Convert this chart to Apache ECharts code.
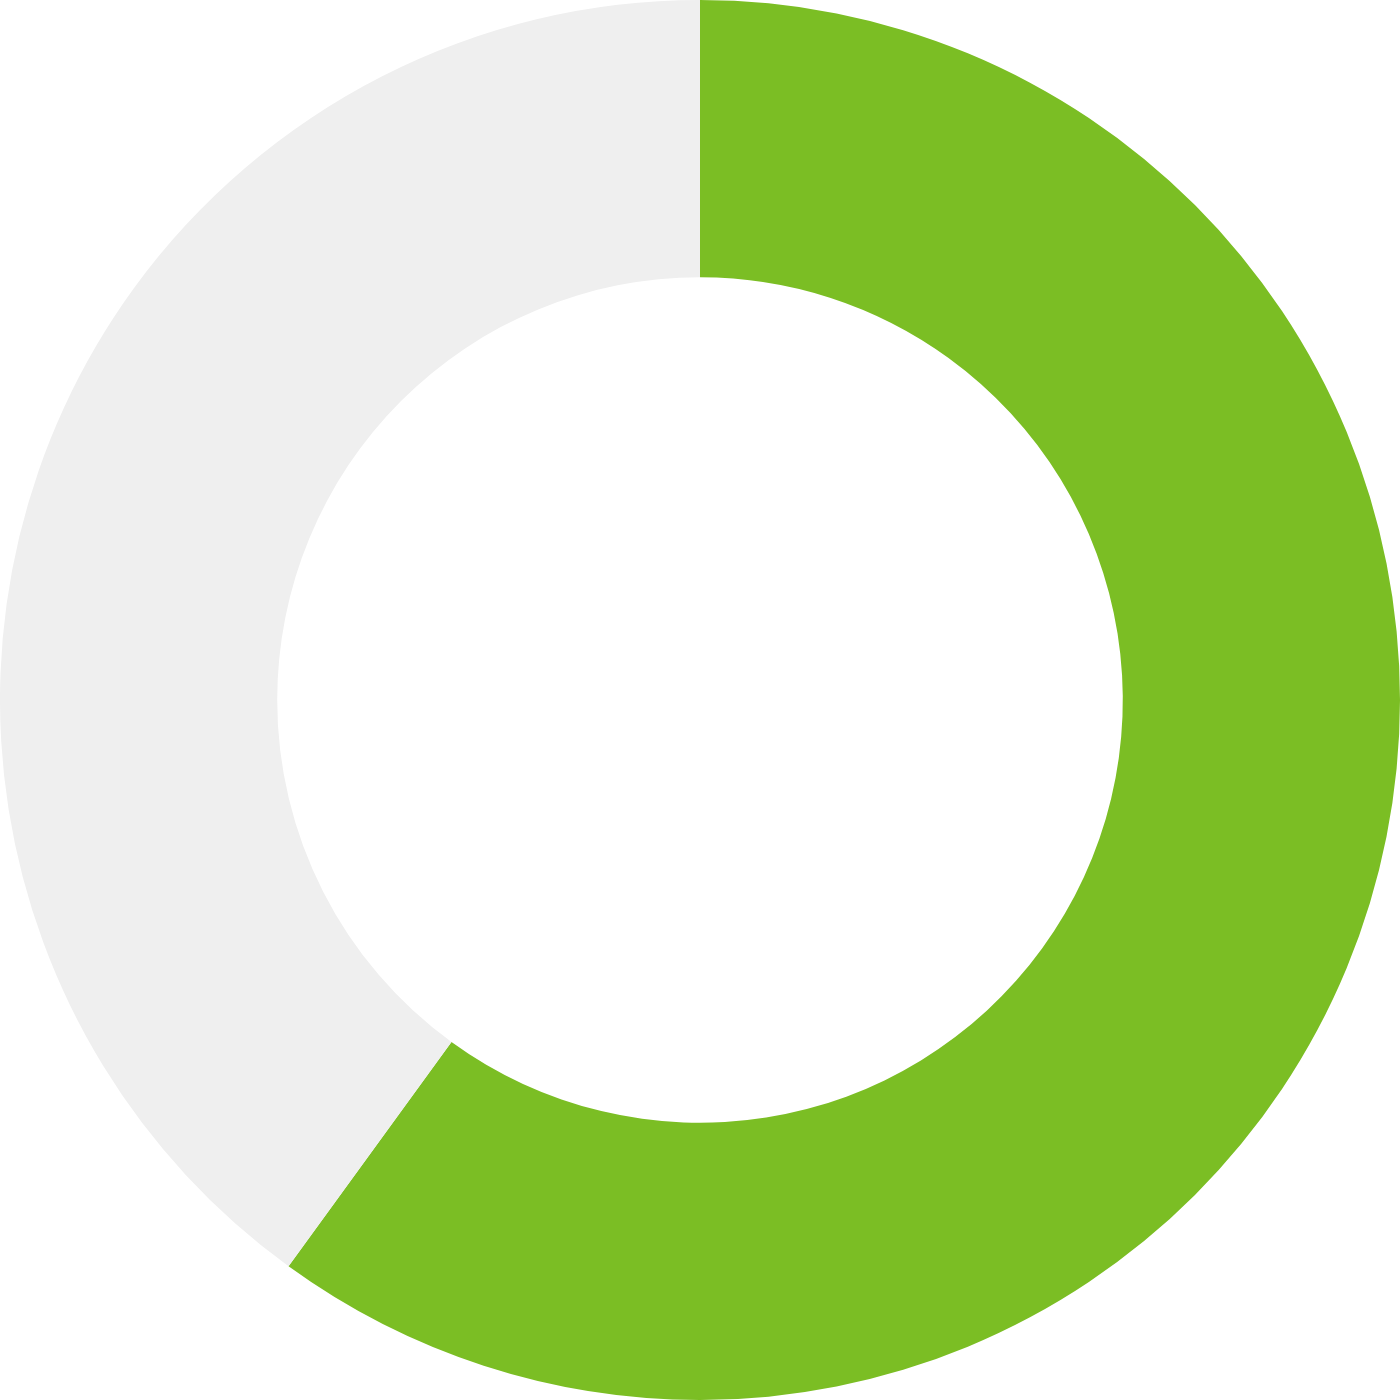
<!DOCTYPE html>
<html>
<head>
<meta charset="utf-8">
<script src="https://cdn.jsdelivr.net/npm/echarts@6/dist/echarts.min.js"></script>
<style>
    html, body { margin: 0; padding: 0; background: #fff; }
    #chart { width: 1400px; height: 1400px; }
</style>
</head>
<body>
<div id="chart"></div>
<script>
    // share shown vs remainder
    var names = ['done', 'rest'];
    var values = [60, 40];
    var colors = ['#7BBE24', '#EFEFEF'];

    var chart = echarts.init(document.getElementById('chart'));

    chart.setOption({
        animation: false,
        series: [
            {
                type: 'pie',
                radius: ['60.4%', '100%'],
                center: ['50%', '50%'],
                startAngle: 90,
                clockwise: true,
                silent: true,
                label: { show: false },
                labelLine: { show: false },
                data: names.map(function (n, i) {
                    return {
                        name: n,
                        value: values[i],
                        itemStyle: { color: colors[i] }
                    };
                })
            }
        ]
    });
</script>
</body>
</html>
